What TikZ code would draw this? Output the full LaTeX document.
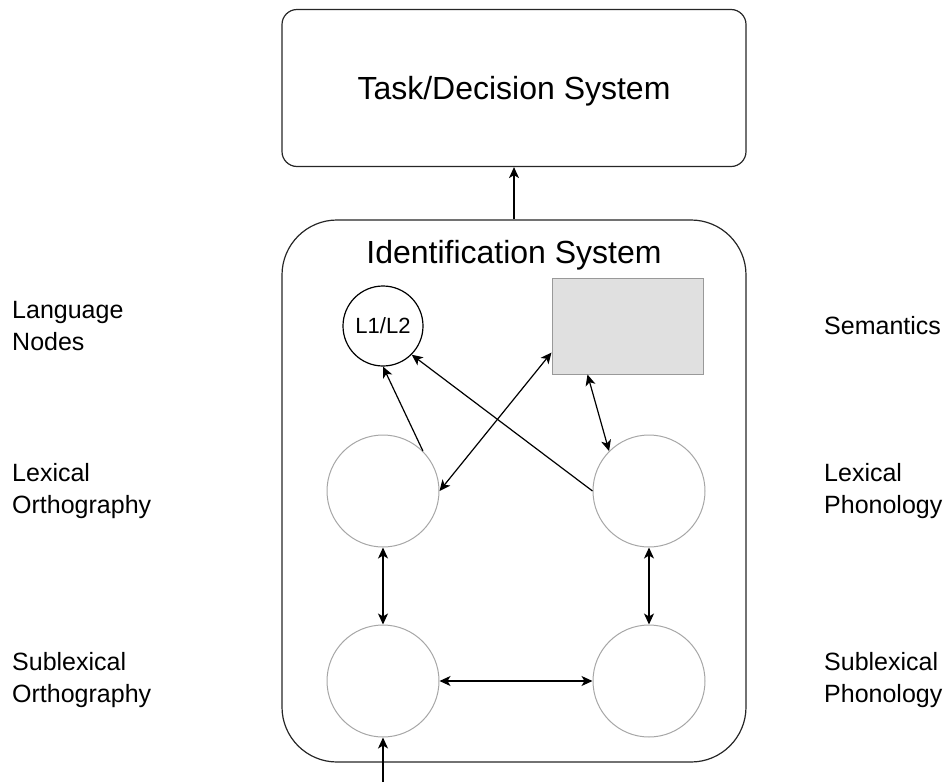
\documentclass[tikz,border=0pt]{standalone}
\usepackage{fontspec}
\setmainfont{Liberation Sans}
\usepackage{tikz}
\usetikzlibrary{arrows.meta, positioning}

\begin{document}
\begin{tikzpicture}[
        x=1pt, y=-1pt,
        node distance = 77pt,
        sysbox/.style = {
            rectangle,
            rounded corners=15pt,
            draw=black!85,
            line width=1.2pt,
            minimum width=464pt,
            minimum height=157pt,
            text depth=0pt,
            font=\fontsize{32}{38}\selectfont
        },
        idbox/.style = {
            rectangle,
            rounded corners=55pt,
            draw=black!85,
            line width=1.2pt,
            minimum width=464pt,
            minimum height=542pt
        },
        unit/.style = {
            circle,
            draw=gray!70,
            line width=1pt,
            minimum size=112pt,
            inner sep=0pt
        },
        langnode/.style = {
            circle,
            draw=black,
            line width=1.2pt,
            minimum size=80pt,
            inner sep=0pt,
            font=\fontsize{22}{26}\selectfont
        },
        sembox/.style = {
            rectangle,
            draw=gray!80,
            fill=gray!24,
            line width=1pt,
            minimum width=151pt,
            minimum height=96pt
        },
        side/.style = {
            anchor=west,
            align=left,
            inner sep=0pt,
            font=\fontsize{25}{32}\selectfont
        },
        arrow/.style = {
            -{Stealth[length=11pt, width=10pt, inset=3pt]},
            line width=1.2pt
        },
        dblarrow/.style = {
            {Stealth[length=11pt, width=10pt, inset=3pt]}-{Stealth[length=11pt, width=10pt, inset=3pt]},
            line width=1.2pt
        }
    ]

    \useasboundingbox (0,0) rectangle (948,782);

    % Nodes
    \node[sysbox] (task) at (514,88) {Task/Decision System};
    \node[idbox] (idsys) at (514,491) {};
    \node[anchor=base, font=\fontsize{32}{38}\selectfont] (idtitle) at (514,263) {Identification System};
    \node[langnode] (lang) at (383,326) {L1/L2};
    \node[sembox] (sem) at (627.5,326) {};
    \node[unit] (lexorth) at (383,491) {};
    \node[unit, right=153pt of lexorth] (lexphon) {};
    \node[unit, below=of lexorth] (subortho) {};
    \node[unit, below=of lexphon] (subphon) {};
    \coordinate (input) at (383,782);

    % Arrows
    \draw[arrow] (idsys.north) -- (task.south);
    \draw[arrow] (lexorth.north east) -- (lang.south);
    \draw[arrow] (lexphon.west) -- (lang.-45);
    \draw[dblarrow] (lexorth.east) -- ([yshift=22pt]sem.south west);
    \draw[dblarrow] ([xshift=36pt]sem.south west) -- (lexphon.north west);
    \draw[dblarrow] (lexorth) -- (subortho);
    \draw[dblarrow] (lexphon) -- (subphon);
    \draw[dblarrow] (subortho) -- (subphon);
    \draw[arrow] (input) -- (subortho);

    % Side labels
    \node[side] (langlbl) at (12,326) {Language\\Nodes};
    \node[side] (orthlbl) at (12,491) {Lexical\\Orthography};
    \node[side] (suborthlbl) at (12,680) {Sublexical\\Orthography};
    \node[side] (semlbl) at (824,326) {Semantics};
    \node[side] (phonlbl) at (824,491) {Lexical\\Phonology};
    \node[side] (subphonlbl) at (824,680) {Sublexical\\Phonology};

\end{tikzpicture}
\end{document}
